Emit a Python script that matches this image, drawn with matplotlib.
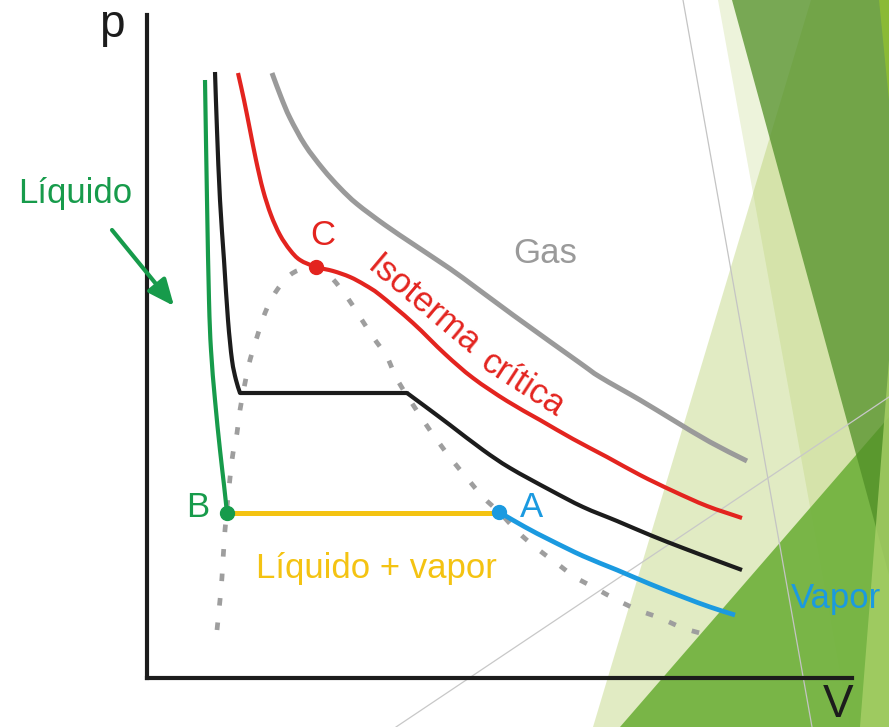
import matplotlib
matplotlib.use('Agg')
import matplotlib.pyplot as plt
import numpy as np
from matplotlib.patches import Polygon, PathPatch
from matplotlib.path import Path

plt.rcParams['font.family'] = ['Liberation Sans', 'DejaVu Sans']

W, H = 889, 727

# ---- data (V, p) in drawing units, origin at the axes corner ----
gas_V = [125, 134, 143, 158, 176, 193, 210, 238, 266, 293, 316, 366, 433, 453, 493, 526, 563, 600]
gas_p = [605, 581, 560, 533, 509, 490, 474, 453, 434, 416, 400, 363, 315, 301, 278, 258, 236, 217]

crit_V = [91, 97, 103, 109, 116, 124, 133, 143, 153, 169, 186, 203, 218, 233, 266, 298, 326, 360,
          393, 426, 460, 493, 526, 560, 595]
crit_p = [605, 578, 548, 518, 488, 463, 443, 428, 418, 411, 407, 401, 393, 383, 355, 324, 300, 277,
          258, 239, 221, 203, 187, 172, 160]

# subcritical isotherm: liquid branch, plateau, vapour branch
iso_liq_V = [68, 70, 73, 77, 81, 85, 89, 93]
iso_liq_p = [606, 548, 478, 418, 358, 318, 298, 285]
iso_flat_V = [93, 260]
iso_flat_p = [285, 285]
iso_vap_V = [260, 283, 303, 336, 363, 403, 436, 470, 503, 536, 568, 595]
iso_vap_p = [285, 268, 253, 228, 210, 188, 171, 157, 143, 130, 118, 108]

liq_V = [58, 60, 62, 64, 68, 73, 77, 80]
liq_p = [598, 478, 378, 328, 278, 228, 193, 165]

vap_V = [352, 378, 403, 436, 470, 503, 536, 563, 588]
vap_p = [166, 151, 138, 122, 108, 94, 81, 71, 63]

dome_V = [70, 73, 75, 78, 83, 86, 90, 93, 98, 103, 110, 118, 128, 143, 158, 169, 183, 200, 213, 226,
          240, 251, 276, 290, 305, 320, 336, 353, 371, 388, 408, 428, 448, 470, 491, 513, 536, 560]
dome_p = [48, 78, 101, 148, 200, 225, 245, 268, 295, 318, 341, 365, 385, 403, 410, 411, 402, 381, 361, 341,
          321, 297, 258, 238, 218, 200, 181, 165, 146, 131, 116, 101, 90, 78, 68, 60, 50, 43]

mix_V = [80, 352]
mix_p = [165, 165]

point_C = (169, 411)
point_B = (80, 165)
point_A = (352, 166)

GREEN = '#179b4b'
RED = '#e3241f'
GRAY = '#9a9a9a'
BLUE = '#1b9ae0'
YELLOW = '#f4c312'
BLACK = '#1c1c1c'

fig = plt.figure(figsize=(W / 100, H / 100), dpi=100)
fig.patch.set_facecolor('white')

# ---- decorative slide background ----
bg = fig.add_axes([0, 0, 1, 1], zorder=0)
bg.set_xlim(0, W)
bg.set_ylim(H, 0)
bg.axis('off')


def poly(pts, color, alpha):
    bg.add_patch(Polygon(pts, closed=True, facecolor=color, edgecolor='none', alpha=alpha))


poly([(718, 0), (889, 0), (889, 727), (850, 727)], (165 / 255, 195 / 255, 75 / 255), 0.2)
poly([(811, 0), (889, 0), (889, 727), (593, 727)], (158 / 255, 192 / 255, 58 / 255), 0.3)
poly([(620, 727), (889, 417), (889, 727)], (110 / 255, 176 / 255, 58 / 255), 0.9)
poly([(732, 0), (889, 0), (889, 575)], (81 / 255, 143 / 255, 39 / 255), 0.75)
poly([(879, 0), (889, 0), (889, 100)], '#8dbd35', 0.9)
poly([(889, 360), (889, 727), (860, 727)], '#a8d068', 0.8)
bg.plot([683, 812], [0, 727], color='#c4c4c4', lw=0.9)
bg.plot([396, 889], [727, 397], color='#c8c8c8', lw=0.9)

# ---- p-V diagram ----
ax = fig.add_axes([147 / W, 49 / H, 705 / W, 663 / H], zorder=1)
ax.patch.set_alpha(0)
ax.set_xlim(0, 705)
ax.set_ylim(0, 663)
ax.set_xticks([])
ax.set_yticks([])
for s in ['top', 'right']:
    ax.spines[s].set_visible(False)
for s in ['left', 'bottom']:
    ax.spines[s].set_linewidth(3)
    ax.spines[s].set_color(BLACK)


def smooth_curve(xs, ys, **kw):
    """Draw a smooth curve through the read points with matplotlib cubic Bezier path segments."""
    P = np.column_stack([xs, ys]).astype(float)
    ext = np.vstack([2 * P[0] - P[1], P, 2 * P[-1] - P[-2]])
    verts = [tuple(P[0])]
    codes = [Path.MOVETO]
    for i in range(1, len(ext) - 2):
        p0, p1, p2, p3 = ext[i - 1], ext[i], ext[i + 1], ext[i + 2]
        c1 = p1 + (p2 - p0) / 6.0
        c2 = p2 - (p3 - p1) / 6.0
        verts += [tuple(c1), tuple(c2), tuple(p2)]
        codes += [Path.CURVE4] * 3
    patch = PathPatch(Path(verts, codes), fill=False, **kw)
    ax.add_patch(patch)
    return patch


smooth_curve(gas_V, gas_p, edgecolor=GRAY, lw=3.6, capstyle='butt', zorder=3)
smooth_curve(crit_V, crit_p, edgecolor=RED, lw=3, capstyle='butt', zorder=4)
smooth_curve(iso_liq_V, iso_liq_p, edgecolor=BLACK, lw=3, capstyle='butt', zorder=4)
ax.plot(iso_flat_V, iso_flat_p, color=BLACK, lw=3, solid_capstyle='round', zorder=4)
smooth_curve(iso_vap_V, iso_vap_p, edgecolor=BLACK, lw=3, capstyle='butt', zorder=4)
smooth_curve(liq_V, liq_p, edgecolor=GREEN, lw=3, capstyle='butt', zorder=4)
smooth_curve(dome_V, dome_p, edgecolor='#9e9e9e', lw=3.4, linestyle=(0, (1.6, 3.6)),
             capstyle='butt', zorder=2)
ax.plot(mix_V, mix_p, color=YELLOW, lw=3.6, zorder=4)
smooth_curve(vap_V, vap_p, edgecolor=BLUE, lw=3.4, capstyle='butt', zorder=4)

ax.plot(*point_C, 'o', color=RED, ms=10, zorder=6)
ax.plot(*point_B, 'o', color=GREEN, ms=10, zorder=6)
ax.plot(*point_A, 'o', color=BLUE, ms=10, zorder=6)

fs = 25
ax.text(-35, 641, 'p', fontsize=33, color=BLACK, ha='center', va='baseline')
ax.text(691, -39, 'V', fontsize=33, color=BLACK, ha='center', va='baseline', clip_on=False)
ax.text(-129, 475, 'Líquido', fontsize=fs, color=GREEN, ha='left', va='baseline')
ax.text(176, 433, 'C', fontsize=fs, color=RED, ha='center', va='baseline')
ax.text(398, 415, 'Gas', fontsize=fs, color=GRAY, ha='center', va='baseline')
ax.text(51, 161, 'B', fontsize=fs, color=GREEN, ha='center', va='baseline')
ax.text(384, 161, 'A', fontsize=fs, color=BLUE, ha='center', va='baseline')
ax.text(229, 100, 'Líquido + vapor', fontsize=fs, color=YELLOW, ha='center', va='baseline')
ax.text(689, 70, 'Vapor', fontsize=fs, color=BLUE, ha='center', va='baseline')
ax.text(277, 373, 'Isoterma', fontsize=fs, color=RED, ha='center', va='center',
        rotation=-40, rotation_mode='anchor')
ax.text(376, 294, 'crítica', fontsize=fs, color=RED, ha='center', va='center',
        rotation=-33, rotation_mode='anchor')

ax.annotate('', xy=(27, 372), xytext=(-35, 448),
            arrowprops=dict(arrowstyle='-|>,head_length=0.8,head_width=0.35', color=GREEN,
                            lw=3, mutation_scale=20, shrinkA=0, shrinkB=0),
            annotation_clip=False)

fig.savefig('out.png', dpi=100)
